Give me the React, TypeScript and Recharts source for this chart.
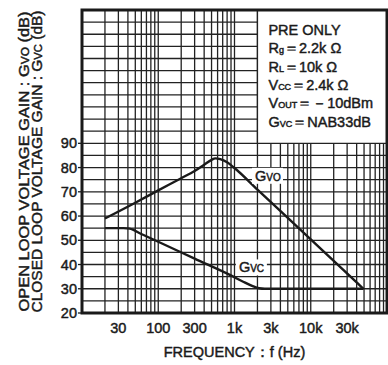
import React from "react"
import { LineChart, Line, XAxis, YAxis, CartesianGrid, ReferenceArea, ReferenceDot } from "recharts"

// open loop gain Gvo
const gvoFreq = [20, 50, 100, 200, 300, 400, 500, 560, 650, 800, 1000, 2000, 5000, 10000, 20000, 49000]
const gvoGain = [59, 65.5, 70.6, 75.6, 78.6, 81.2, 83.2, 83.8, 83.5, 82.2, 79.8, 70.9, 59.2, 50.4, 41.5, 30]

// closed loop gain Gvc
const gvcFreq = [20, 35, 42, 60, 100, 300, 950, 1300, 1700, 2100, 2500, 49000]
const gvcGain = [55, 55, 54.8, 52.6, 49.4, 42.4, 35.1, 32.9, 31.2, 30.2, 30, 30]

const freqGrid = [
  10, 20, 30, 40, 50, 60, 70, 80, 90,
  100, 200, 300, 400, 500, 600, 700, 800, 900,
  1000, 2000, 3000, 4000, 5000, 6000, 7000, 8000, 9000,
  10000, 20000, 30000, 40000, 50000, 60000, 70000, 80000, 90000, 100000,
]
const freqLabels: Record<number, string> = { 30: "30", 100: "100", 300: "300", 1000: "1k", 3000: "3k", 10000: "10k", 30000: "30k" }
const gainGrid = [20, 25, 30, 35, 40, 45, 50, 55, 60, 65, 70, 75, 80, 85, 90, 95, 100, 105, 110, 115, 120, 125, 130, 135, 140, 145]
const gainLabels = [20, 30, 40, 50, 60, 70, 80, 90]

const gvoLabelAt = { f: 2670, g: 76.6 }
const gvcLabelAt = { f: 1640, g: 38.8 }

const gvoData = gvoFreq.map((f, i) => ({ freq: f, gain: gvoGain[i] }))
const gvcData = gvcFreq.map((f, i) => ({ freq: f, gain: gvcGain[i] }))

const FONT = "'Liberation Sans', Arial, sans-serif"
const INK = "#1a1a1a"
// printed type in the datasheet is a little heavier than plain Arial
const heavy = { stroke: INK, strokeWidth: 0.45 }

function FreqTick(props: any) {
  const { x, y, payload } = props
  const txt = freqLabels[payload.value]
  if (!txt) return null
  return (
    <text x={x} y={y} dy={12} textAnchor="middle" fontSize={14.5} fontFamily={FONT} fill={INK} {...heavy}>
      {txt}
    </text>
  )
}

function GainTick(props: any) {
  const { y, payload } = props
  if (!gainLabels.includes(payload.value)) return null
  return (
    <g>
      <line x1={82} x2={78} y1={y} y2={y} stroke={INK} strokeWidth={1.3} />
      <text x={77} y={y} dy={5} textAnchor="end" fontSize={14.5} fontFamily={FONT} fill={INK} {...heavy}>
        {payload.value}
      </text>
    </g>
  )
}

function NoteBox(props: any) {
  const { x, y } = props.viewBox
  const lx = x + 11
  const rows = [
    <>PRE ONLY</>,
    <>R<tspan fontSize={9}>g</tspan>＝2.2k Ω</>,
    <>R<tspan fontSize={9}>L</tspan>＝10k Ω</>,
    <>V<tspan fontSize={9}>CC</tspan>＝2.4k Ω</>,
    <>V<tspan fontSize={9}>OUT</tspan>＝－10dBm</>,
    <>G<tspan fontSize={9}>VC</tspan>＝NAB33dB</>,
  ]
  return (
    <g fontFamily={FONT} fontSize={14.5} fill={INK} {...heavy}>
      {rows.map((r, i) => (
        <text key={i} x={lx} y={y + 25 + i * 18.3}>
          {r}
        </text>
      ))}
    </g>
  )
}

function CurveTag(sub: string) {
  return (props: any) => {
    const { cx, cy } = props
    return (
      <g>
        <rect x={cx - 15} y={cy - 8} width={31} height={16} fill="#fff" />
        <text x={cx - 12} y={cy + 5} fontFamily={FONT} fontSize={14.5} fill={INK} {...heavy}>
          G<tspan fontSize={10}>{sub}</tspan>
        </text>
      </g>
    )
  }
}

function GainTitle(props: any) {
  const { y, height } = props.viewBox
  const cy = y + height / 2
  return (
    <g fontFamily={FONT} fontSize={14.5} fill={INK} {...heavy}>
      <text x={29} y={cy} transform={`rotate(-90 29 ${cy})`} textAnchor="middle" textLength={300} lengthAdjust="spacingAndGlyphs">
        OPEN LOOP VOLTAGE GAIN : G<tspan fontSize={10.5}>VO</tspan> (dB)
      </text>
      <text x={42} y={cy} transform={`rotate(-90 42 ${cy})`} textAnchor="middle" textLength={302} lengthAdjust="spacingAndGlyphs">
        CLOSED LOOP VOLTAGE GAIN : G<tspan fontSize={10.5}>VC</tspan> (dB)
      </text>
    </g>
  )
}

function FreqTitle(props: any) {
  const { x, width } = props.viewBox
  return (
    <text x={x + width / 2} y={357} textAnchor="middle" fontFamily={FONT} fontSize={14.5} fill={INK} {...heavy}>
      FREQUENCY：f (Hz)
    </text>
  )
}

export default function App() {
  return (
    <div style={{ position: "absolute", left: 0, top: 0, width: 388, height: 365, background: "#fff" }}>
      <LineChart width={388} height={365} data={gvoData} margin={{ top: 10, right: 1, bottom: 0, left: 0 }}>
        <CartesianGrid stroke="#222" strokeWidth={1.3} />
        <XAxis
          dataKey="freq"
          type="number"
          scale="log"
          domain={[10, 100000]}
          ticks={freqGrid}
          interval={0}
          allowDataOverflow
          axisLine={false}
          tickLine={false}
          height={52}
          tick={<FreqTick />}
          label={<FreqTitle />}
        />
        <YAxis
          type="number"
          domain={[20, 145]}
          ticks={gainGrid}
          interval={0}
          allowDataOverflow
          axisLine={false}
          tickLine={false}
          width={82}
          tick={<GainTick />}
          label={<GainTitle />}
        />
        <ReferenceArea x1={2000} x2={100000} y1={90} y2={145} fill="#fff" fillOpacity={1} stroke="#222" strokeWidth={1.3} label={<NoteBox />} />
        <ReferenceArea x1={10} x2={100000} y1={20} y2={145} fill="none" stroke={INK} strokeWidth={3} />
        <Line data={gvoData} dataKey="gain" type="monotone" stroke={INK} strokeWidth={2.4} dot={false} isAnimationActive={false} />
        <Line data={gvcData} dataKey="gain" type="monotone" stroke={INK} strokeWidth={2.4} dot={false} isAnimationActive={false} />
        <ReferenceDot x={gvoLabelAt.f} y={gvoLabelAt.g} shape={CurveTag("VO")} />
        <ReferenceDot x={gvcLabelAt.f} y={gvcLabelAt.g} shape={CurveTag("VC")} />
      </LineChart>
    </div>
  )
}
